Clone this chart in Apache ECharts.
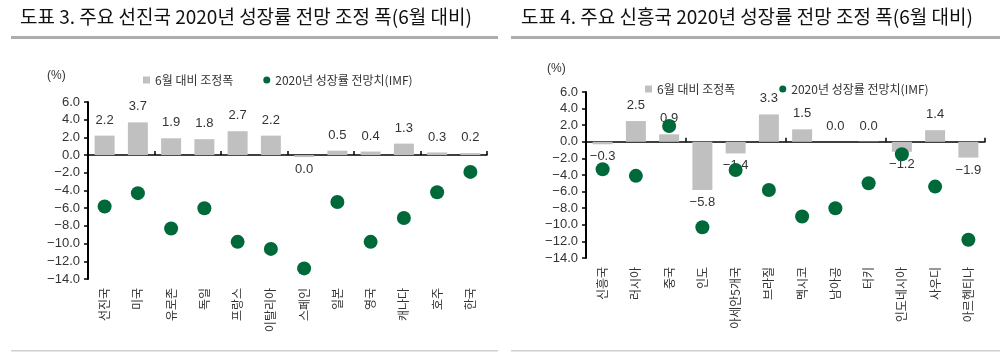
<!DOCTYPE html>
<html>
<head>
<meta charset="utf-8">
<script src="https://cdn.jsdelivr.net/npm/echarts@6/dist/echarts.min.js"></script>
<style>
html,body{margin:0;padding:0;background:#fff;}
#main{width:1000px;height:363px;}
</style>
</head>
<body>
<div id="main"></div>
<script>
// ---- Data ----
const titleLeft = '도표 3. 주요 선진국 2020년 성장률 전망 조정 폭(6월 대비)';
const titleRight = '도표 4. 주요 신흥국 2020년 성장률 전망 조정 폭(6월 대비)';
const barName = '6월 대비 조정폭';
const dotName = '2020년 성장률 전망치(IMF)';
const unitLabel = '(%)';

const advCategories = ['선진국','미국','유로존','독일','프랑스','이탈리아','스페인','일본','영국','캐나다','호주','한국'];
const advAdjust = [2.2, 3.7, 1.9, 1.8, 2.7, 2.2, -0.04, 0.5, 0.4, 1.3, 0.3, 0.2];
const advForecast = [-5.8, -4.3, -8.3, -6.0, -9.8, -10.6, -12.8, -5.3, -9.8, -7.1, -4.2, -1.9];

const emCategories = ['신흥국','러시아','중국','인도','아세안5개국','브라질','멕시코','남아공','터키','인도네시아','사우디','아르헨티나'];
const emAdjust = [-0.3, 2.5, 0.9, -5.8, -1.4, 3.3, 1.5, 0.0, 0.04, -1.2, 1.4, -1.9];
const emForecast = [-3.3, -4.1, 1.9, -10.3, -3.4, -5.8, -9.0, -8.0, -5.0, -1.5, -5.4, -11.8];

const yMin = -14, yMax = 6, yInterval = 2;

// ---- Helpers ----
const NUM_FONT = '"Liberation Sans", Arial, "Noto Sans CJK KR", sans-serif';
const KR_FONT = '"Noto Sans CJK KR", "Liberation Sans", sans-serif';
function fmt(v){
  let r = Math.round(v*10)/10;
  if (Math.abs(r) < 0.05) return '0.0';
  return r.toFixed(1).replace('-', '\u2212');
}
function barData(arr){
  return arr.map(v => ({
    value: v,
    label: { position: v < 0 ? 'bottom' : 'top', distance: v < 0 ? 6 : 9 }
  }));
}

const grids = [
  { left: 88, top: 102, width: 399, height: 177 },
  { left: 586, top: 92, width: 399, height: 166 }
];

const xAxes = [], yAxes = [], series = [];
[[advCategories, advAdjust, advForecast, 2], [emCategories, emAdjust, emForecast, 0]].forEach((d, i) => {
  const [cats, adj, fc, minH] = d;
  // axis line at zero with ticks
  xAxes.push({
    type: 'category', gridIndex: i, data: cats, position: 'bottom',
    axisLine: { onZero: true, lineStyle: { color: '#000', width: 1.5 } },
    axisTick: { show: true, inside: true, length: 4, alignWithLabel: false, lineStyle: { color: '#000', width: 1.5 } },
    axisLabel: { show: false }, splitLine: { show: false }
  });
  // labels at grid bottom
  xAxes.push({
    type: 'category', gridIndex: i, data: cats, position: 'bottom',
    axisLine: { show: false, onZero: false }, axisTick: { show: false },
    axisLabel: { show: true, rotate: 90, margin: 9, color: '#333', fontSize: 12, fontFamily: KR_FONT, interval: 0 },
    splitLine: { show: false }
  });
  yAxes.push({
    type: 'value', gridIndex: i, min: yMin, max: yMax, interval: yInterval,
    axisLine: { show: true, lineStyle: { color: '#000', width: 2 } },
    axisTick: { show: true, length: 4, lineStyle: { color: '#000', width: 1.5 } },
    axisLabel: { color: '#333', fontSize: 13, fontFamily: NUM_FONT, margin: 8, formatter: v => fmt(v) },
    splitLine: { show: false }
  });
  series.push({
    name: barName, type: 'bar', xAxisIndex: i*2, yAxisIndex: i,
    data: barData(adj), barWidth: 20, barMinHeight: minH,
    itemStyle: { color: '#c0c0c0' },
    label: { show: true, color: '#333', fontSize: 13, fontFamily: NUM_FONT, formatter: p => fmt(p.value) },
    z: 2
  });
  series.push({
    name: dotName, type: 'scatter', xAxisIndex: i*2, yAxisIndex: i,
    data: fc, symbol: 'circle', symbolSize: 14,
    itemStyle: { color: '#00693a', opacity: 1 },
    z: 3
  });
});

const legendBase = {
  orient: 'horizontal', itemWidth: 7, itemHeight: 7,
  textStyle: { color: '#333', fontSize: 12, fontFamily: KR_FONT },
  data: [ { name: barName, icon: 'rect' }, { name: dotName, icon: 'circle' } ],
  selectedMode: false
};

const option = {
  animation: false,
  backgroundColor: '#fff',
  grid: grids,
  xAxis: xAxes,
  yAxis: yAxes,
  series: series,
  legend: [
    Object.assign({}, legendBase, { left: 138, top: 69, itemGap: 30 }),
    Object.assign({}, legendBase, { left: 640, top: 78, itemGap: 44 })
  ],
  graphic: [
    { type: 'text', left: 20, top: 7, style: { text: titleLeft, fill: '#111', font: '400 19px "Noto Sans CJK KR", sans-serif' } },
    { type: 'text', left: 521, top: 7, style: { text: titleRight, fill: '#111', font: '400 19px "Noto Sans CJK KR", sans-serif' } },
    { type: 'rect', shape: { x: 11, y: 36, width: 487, height: 3 }, style: { fill: '#adadad' } },
    { type: 'rect', shape: { x: 511, y: 36, width: 489, height: 3 }, style: { fill: '#adadad' } },
    { type: 'rect', shape: { x: 11, y: 350, width: 487, height: 1.5 }, style: { fill: '#cfcfcf' } },
    { type: 'rect', shape: { x: 511, y: 350, width: 489, height: 1.5 }, style: { fill: '#cfcfcf' } },
    { type: 'text', left: 47, top: 70, style: { text: unitLabel, fill: '#333', font: '12px "Liberation Sans", Arial, sans-serif' } },
    { type: 'text', left: 547, top: 63, style: { text: unitLabel, fill: '#333', font: '12px "Liberation Sans", Arial, sans-serif' } }
  ]
};

const chart = echarts.init(document.getElementById('main'), null, { renderer: 'canvas' });
chart.setOption(option);
</script>
</body>
</html>
